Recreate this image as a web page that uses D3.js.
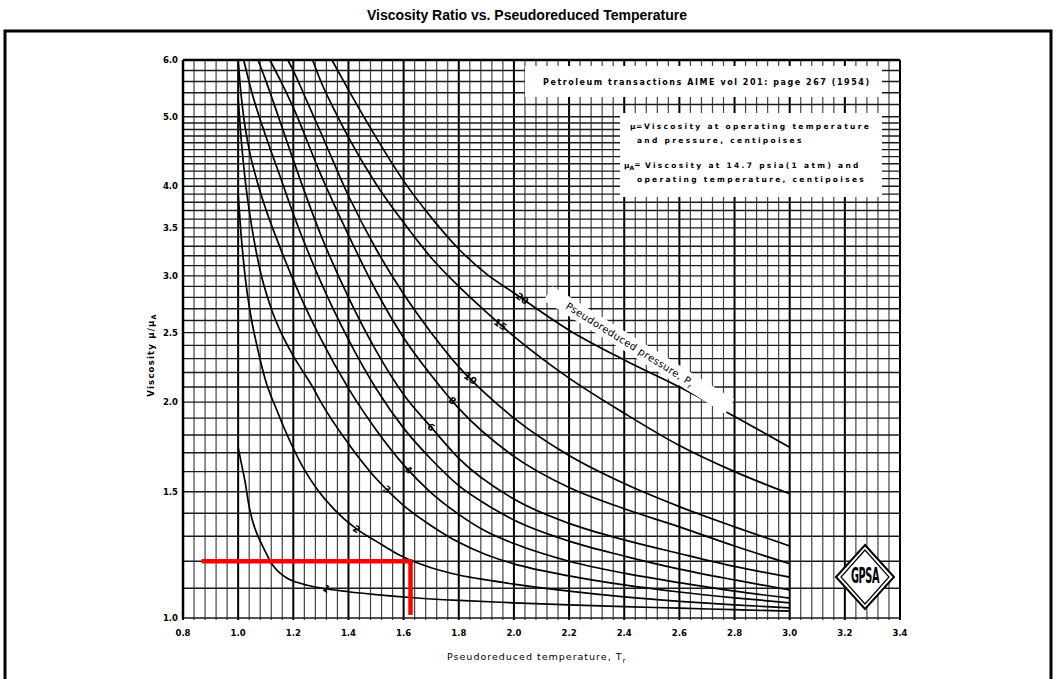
<!DOCTYPE html>
<html>
<head>
<meta charset="utf-8">
<script src="https://cdn.jsdelivr.net/npm/d3@7"></script>
<style>
  html, body { margin: 0; padding: 0; background: #fff; }
  svg { display: block; }
</style>
</head>
<body>
<svg id="chart" width="1055" height="679"></svg>
<script>
// ---------------- data ----------------
const tempTicks = [0.8, 1.0, 1.2, 1.4, 1.6, 1.8, 2.0, 2.2, 2.4, 2.6, 2.8, 3.0, 3.2, 3.4];
const muTicks = [1.0, 1.5, 2.0, 2.5, 3.0, 3.5, 4.0, 5.0, 6.0];
const pressureLevels = [1, 2, 3, 4, 5, 6, 8, 10, 15, 20];

// [Tr, mu/muA] pairs for each pseudoreduced pressure
const curvePr1  = [[1.0,1.73],[1.012,1.64],[1.025,1.55],[1.037,1.45],[1.05,1.375],[1.065,1.32],[1.08,1.28],[1.1,1.235],[1.116,1.2],[1.135,1.172],[1.152,1.155],[1.175,1.138],[1.2,1.126],[1.25,1.111],[1.3,1.101],[1.4,1.088],[1.5,1.078],[1.624,1.068],[1.8,1.058],[2.0,1.05],[2.2,1.043],[2.4,1.037],[2.6,1.032],[2.8,1.027],[3.0,1.022]];
const curvePr2  = [[1.0,3.9],[1.01,3.45],[1.025,3.0],[1.045,2.65],[1.07,2.38],[1.1,2.14],[1.14,1.95],[1.195,1.74],[1.24,1.61],[1.285,1.515],[1.35,1.415],[1.43,1.33],[1.5,1.28],[1.588,1.222],[1.7,1.175],[1.8,1.148],[1.9,1.13],[2.0,1.115],[2.2,1.09],[2.4,1.07],[2.6,1.055],[2.8,1.043],[3.0,1.033]];
const curvePr3  = [[1.0,5.3],[1.01,4.7],[1.025,4.1],[1.05,3.5],[1.08,3.05],[1.12,2.7],[1.16,2.48],[1.2,2.32],[1.27,2.1],[1.3,2.0],[1.4,1.75],[1.5,1.565],[1.6,1.435],[1.7,1.345],[1.8,1.275],[1.9,1.225],[2.0,1.19],[2.2,1.145],[2.4,1.112],[2.6,1.087],[2.8,1.067],[3.0,1.05]];
const curvePr4  = [[1.0,6.0],[1.008,5.5],[1.02,5.0],[1.04,4.5],[1.07,4.05],[1.1,3.72],[1.15,3.3],[1.2,2.96],[1.3,2.45],[1.4,2.09],[1.5,1.83],[1.6,1.635],[1.7,1.495],[1.8,1.395],[1.9,1.32],[2.0,1.27],[2.2,1.2],[2.4,1.155],[2.6,1.12],[2.8,1.09],[3.0,1.066]];
const curvePr5  = [[1.02,6.0],[1.05,5.4],[1.1,4.7],[1.15,4.15],[1.2,3.66],[1.3,2.94],[1.4,2.445],[1.5,2.09],[1.6,1.84],[1.7,1.665],[1.8,1.53],[1.9,1.44],[2.0,1.37],[2.2,1.28],[2.4,1.22],[2.6,1.17],[2.8,1.13],[3.0,1.094]];
const curvePr6  = [[1.072,6.0],[1.1,5.62],[1.15,4.95],[1.2,4.35],[1.3,3.42],[1.4,2.8],[1.5,2.36],[1.6,2.05],[1.7,1.845],[1.8,1.67],[2.0,1.465],[2.2,1.355],[2.4,1.285],[2.6,1.23],[2.8,1.18],[3.0,1.14]];
const curvePr8  = [[1.115,6.0],[1.15,5.65],[1.2,5.15],[1.3,4.15],[1.4,3.42],[1.5,2.86],[1.6,2.46],[1.7,2.18],[1.8,1.96],[2.0,1.68],[2.2,1.52],[2.4,1.42],[2.6,1.34],[2.8,1.26],[3.0,1.19]];
const curvePr10 = [[1.18,6.0],[1.2,5.8],[1.25,5.25],[1.3,4.75],[1.4,3.88],[1.5,3.27],[1.6,2.83],[1.7,2.5],[1.8,2.24],[1.9,2.05],[2.0,1.9],[2.2,1.685],[2.4,1.54],[2.6,1.43],[2.8,1.34],[3.0,1.26]];
const curvePr15 = [[1.27,6.0],[1.3,5.6],[1.35,5.1],[1.4,4.68],[1.5,4.03],[1.6,3.56],[1.7,3.18],[1.8,2.9],[1.9,2.67],[2.0,2.47],[2.2,2.16],[2.4,1.93],[2.6,1.74],[2.8,1.6],[3.0,1.49]];
const curvePr20 = [[1.34,6.0],[1.4,5.45],[1.5,4.68],[1.6,4.07],[1.7,3.62],[1.8,3.27],[1.9,3.02],[2.0,2.84],[2.2,2.52],[2.4,2.29],[2.6,2.1],[2.8,1.91],[3.0,1.73]];
const curves = [curvePr1, curvePr2, curvePr3, curvePr4, curvePr5, curvePr6, curvePr8, curvePr10, curvePr15, curvePr20];

// curve labels: text, index of curve, Tr where the label sits
const curveLabels = ["1", "2", "3", "4", "6", "8", "10", "15", "20"];
const curveLabelCurve = [0, 1, 2, 3, 5, 6, 7, 8, 9];
const curveLabelT = [1.32, 1.43, 1.54, 1.618, 1.70, 1.777, 1.842, 1.951, 2.03];

// red reading marker
const markerT = 1.625;
const markerMu = 1.2;
const markerStartT = 0.868;
const markerEndMu = 1.01;

const titleText = "Viscosity Ratio vs. Pseudoreduced Temperature";
const sourceText = "Petroleum transactions AIME vol 201: page 267 (1954)";
const defLines = ["Viscosity at operating temperature", "and pressure, centipoises", "Viscosity at 14.7 psia(1 atm) and", "operating temperature, centipoises"];

// ---------------- drawing ----------------
const svg = d3.select("#chart");
const x = d3.scaleLinear().domain([0.8, 3.4]).range([183, 900]);
const y = d3.scaleLog().domain([1, 6]).range([618, 60]);
const font = "DejaVu Sans, Liberation Sans, sans-serif";

function muAt(curve, t) {
  for (let i = 1; i < curve.length; i++) {
    if (t <= curve[i][0]) {
      const a = curve[i - 1], b = curve[i];
      const f = (t - a[0]) / (b[0] - a[0]);
      return Math.exp(Math.log(a[1]) + f * (Math.log(b[1]) - Math.log(a[1])));
    }
  }
  return curve[curve.length - 1][1];
}

svg.append("text").attr("x", 527).attr("y", 20).attr("text-anchor", "middle")
  .attr("font-family", "Liberation Sans, Arial, sans-serif").attr("font-weight", "bold")
  .attr("font-size", 14).text(titleText);

svg.append("rect").attr("x", 5).attr("y", 31).attr("width", 1046).attr("height", 660)
  .attr("fill", "none").attr("stroke", "#000").attr("stroke-width", 3);

const g = svg.append("g");

// vertical grid every 0.04
const vLines = d3.range(0, 66).map(i => +(0.8 + i * 0.04).toFixed(2));
const isMajor = d => Math.round(d * 100) % 20 === 0;
g.selectAll("line.v").data(vLines).join("line")
  .attr("x1", d => x(d)).attr("x2", d => x(d))
  .attr("y1", y(6)).attr("y2", y(1) + 2)
  .attr("stroke", d => isMajor(d) ? "#000" : "#444")
  .attr("stroke-width", d => isMajor(d) ? 2 : 1.2);

// horizontal grid
const hLines = d3.range(10, 50).map(i => i / 10).concat([5.0, 5.2, 5.4, 5.6, 5.8, 6.0]);
g.selectAll("line.h").data(hLines).join("line")
  .attr("x1", x(0.8)).attr("x2", x(3.4))
  .attr("y1", d => y(d)).attr("y2", d => y(d))
  .attr("stroke", "#1a1a1a").attr("stroke-width", 1.4);

// top and left border
g.append("line").attr("x1", x(0.8)).attr("x2", x(3.4)).attr("y1", y(6)).attr("y2", y(6))
  .attr("stroke", "#000").attr("stroke-width", 2.5);
g.append("line").attr("x1", x(0.8)).attr("x2", x(0.8)).attr("y1", y(6)).attr("y2", y(1))
  .attr("stroke", "#000").attr("stroke-width", 2.5);

// white boxes
g.append("rect").attr("x", 525).attr("y", 66).attr("width", 357).attr("height", 31).attr("fill", "#fff");
g.append("rect").attr("x", 620).attr("y", 113).attr("width", 262).attr("height", 84).attr("fill", "#fff");

g.append("text").attr("x", 543).attr("y", 85).attr("font-family", font).attr("font-weight", "bold")
  .attr("font-size", 8).attr("letter-spacing", 1.55).text(sourceText);

const defG = g.append("g").attr("font-family", font).attr("font-size", 7.5).attr("font-weight", "bold").attr("letter-spacing", 2.3);
defG.append("text").attr("x", 630).attr("y", 129).attr("letter-spacing", 0.5).text("μ=");
defG.append("text").attr("x", 644).attr("y", 129).text(defLines[0]);
defG.append("text").attr("x", 637).attr("y", 143).text(defLines[1]);
const muA = defG.append("text").attr("x", 624).attr("y", 168).attr("letter-spacing", 0);
muA.append("tspan").text("μ");
muA.append("tspan").attr("font-size", 6).attr("dy", 2).text("A");
muA.append("tspan").attr("dy", -3).text("=");
defG.append("text").attr("x", 645).attr("y", 168).text(defLines[2]);
defG.append("text").attr("x", 637).attr("y", 182).text(defLines[3]);

// curves
const line = d3.line().x(d => x(d[0])).y(d => y(d[1])).curve(d3.curveMonotoneX);
g.selectAll("path.curve").data(curves).join("path")
  .attr("d", line).attr("fill", "none").attr("stroke", "#000").attr("stroke-width", 1.7);

// pressure label band
const bandX = 565, bandY = 308, bandAngle = 32;
const band = g.append("g").attr("transform", `translate(${bandX},${bandY}) rotate(${bandAngle})`);
band.append("rect").attr("x", -22).attr("y", -12).attr("width", 214).attr("height", 17).attr("fill", "#fff");
const pl = band.append("text").attr("x", 0).attr("y", 0).attr("font-family", font).attr("font-size", 10).attr("letter-spacing", 0.4);
pl.append("tspan").text("Pseudoreduced pressure, P");
pl.append("tspan").attr("font-size", 7).attr("dy", 3).text("r");

// curve labels
const labelPos = curveLabels.map((d, i) => {
  const c = curves[curveLabelCurve[i]];
  const t = curveLabelT[i];
  return [x(t), y(muAt(c, t))];
});
g.selectAll("text.cl").data(curveLabels).join("text")
  .attr("x", (d, i) => labelPos[i][0]).attr("y", (d, i) => labelPos[i][1])
  .attr("transform", (d, i) => `rotate(35,${labelPos[i][0]},${labelPos[i][1]})`)
  .attr("text-anchor", "middle").attr("dy", "0.35em")
  .attr("font-family", font).attr("font-size", 9.5).attr("font-weight", "bold").text(d => d);

// tick labels
g.selectAll("text.xt").data(tempTicks).join("text")
  .attr("x", d => x(d)).attr("y", 636).attr("text-anchor", "middle")
  .attr("font-family", font).attr("font-size", 8.5).attr("font-weight", "bold")
  .text(d => d.toFixed(1));
g.selectAll("text.yt").data(muTicks).join("text")
  .attr("x", 178).attr("y", d => y(d)).attr("dy", "0.35em").attr("text-anchor", "end")
  .attr("font-family", font).attr("font-size", 8.5).attr("font-weight", "bold")
  .text(d => d.toFixed(1));

// axis titles
const xt = g.append("text").attr("x", 447).attr("y", 660).attr("font-family", font).attr("font-size", 9.5).attr("letter-spacing", 1.0);
xt.append("tspan").text("Pseudoreduced temperature, T");
xt.append("tspan").attr("font-size", 7).attr("dy", 3).text("r");

const yt = g.append("text").attr("transform", `translate(154,355) rotate(-90)`).attr("text-anchor", "middle")
  .attr("font-family", font).attr("font-size", 8.5).attr("font-weight", "bold").attr("letter-spacing", 1.2);
yt.append("tspan").text("Viscosity  μ/μ");
yt.append("tspan").attr("font-size", 6.5).attr("dy", 2).text("A");

// GPSA logo
const logo = g.append("g").attr("transform", `translate(865,577)`);
logo.append("path").attr("d", "M0,-32 L29,0 L0,32 L-29,0 Z").attr("fill", "#fff").attr("stroke", "#000").attr("stroke-width", 2);
logo.append("path").attr("d", "M0,-27 L24,0 L0,27 L-24,0 Z").attr("fill", "none").attr("stroke", "#000").attr("stroke-width", 1.2);
logo.append("text").attr("text-anchor", "middle").attr("transform", "scale(0.75,1.6)").attr("y", 4)
  .attr("font-family", font).attr("font-size", 13).attr("font-weight", "bold").attr("letter-spacing", -0.5).text("GPSA");

// red marker lines
g.append("line").attr("x1", x(markerStartT)).attr("x2", x(markerT) + 2).attr("y1", y(markerMu)).attr("y2", y(markerMu))
  .attr("stroke", "#ff0000").attr("stroke-width", 4.5);
g.append("line").attr("x1", x(markerT)).attr("x2", x(markerT)).attr("y1", y(markerMu)).attr("y2", y(markerEndMu))
  .attr("stroke", "#ff0000").attr("stroke-width", 4.5);
</script>
</body>
</html>
